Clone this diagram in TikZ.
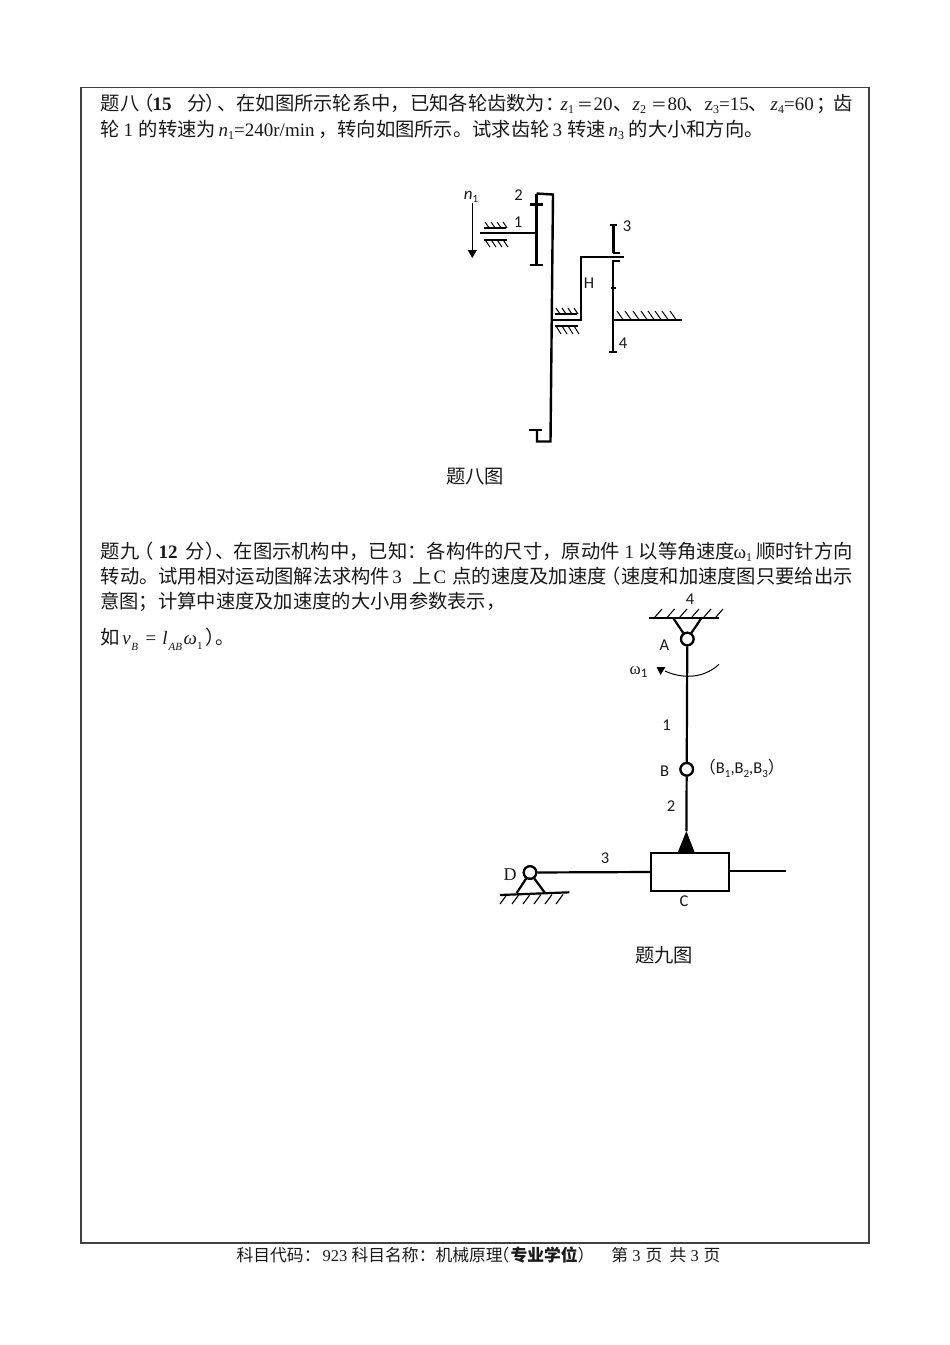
\documentclass[tikz,border=0pt]{standalone}
\usepackage{fontspec}
\usetikzlibrary{arrows.meta}
\setmainfont{Liberation Serif}
\newfontfamily\cjk[Scale=1.016]{Noto Sans CJK SC}
\newfontfamily\lbl{Carlito}
\newcommand{\lowsub}[1]{\raisebox{-0.18em}{\fontsize{12}{12}\selectfont #1}}
\newcommand{\tline}[1]{{\fontsize{19}{20}\selectfont #1}}
\newcommand{\cj}[1]{{\cjk #1}}
\newcommand{\seg}[2]{\rlap{\hspace*{#1pt}#2}}
\newcommand{\eqs}{{\fontsize{15.5}{16}\selectfont\cjk ＝}}
\definecolor{ink}{gray}{0.1}
\tikzset{
  txt/.style={anchor=base west,inner sep=0pt,text=ink},
  partlbl/.style={inner sep=0pt,font=\lbl\fontsize{16.5}{16.5}\selectfont,text=ink},
  capt/.style={inner sep=0pt,font=\cjk\fontsize{19}{20}\selectfont,text=ink},
  frame/.style={draw=black!75,line width=1.6pt},
  gear/.style={draw=black,line width=2.4pt},
  shaft/.style={draw=black,line width=1.9pt},
  hatch/.style={draw=black,line width=1pt},
  joint/.style={circle,draw=black,line width=2.2pt,fill=white,minimum size=12.5pt,inner sep=0pt},
  linkl/.style={draw=black,line width=2.2pt},
}
\begin{document}
\begin{tikzpicture}[x=1pt,y=-1pt]
\useasboundingbox[fill=white] (0,0) rectangle (950,1345);
\draw[frame] (81,87.5) rectangle (869,1243);

% text
\node[txt] (l1) at (100,110) {\tline{\seg{0}{\cj{题八}}\seg{34}{\cj{（}}\seg{52}{\textbf{15}}\seg{86.7}{\cj{分}}\seg{105}{\cj{）}}\seg{117}{\cj{、}}\seg{135.7}{\cj{在如图所示轮系中，已知各轮齿数为：}}\seg{460}{\textit{z}\lowsub{1}}\seg{476.5}{\eqs}\seg{493}{20}\seg{513}{\cj{、}}\seg{532}{\textit{z}\lowsub{2}}\seg{550.5}{\eqs}\seg{567}{80}\seg{585}{\cj{、}}\seg{604}{z\lowsub{3}=15}\seg{648}{\cj{、}}\seg{670}{\textit{z}\lowsub{4}=60}\seg{716}{\cj{；}}\seg{733}{\cj{齿}}}};
\node[txt] (l2) at (100,136) {\tline{\seg{0}{\cj{轮}}\seg{23}{1}\seg{38}{\cj{的转速为}}\seg{118}{\textit{n}\lowsub{1}=240r/min}\seg{218}{\cj{，}}\seg{236.7}{\cj{转向如图所示。试求齿轮}}\seg{452}{3}\seg{466.7}{\cj{转速}}\seg{508}{\textit{n}\lowsub{3}}\seg{528}{\cj{的大小和方向。}}}};
\node[txt] (l3) at (100,558) {\tline{\seg{0}{\cj{题九}}\seg{34}{\cj{（}}\seg{58}{\textbf{12}}\seg{85}{\cj{分}}\seg{105}{\cj{）}}\seg{115}{\cj{、}}\seg{133}{\cj{在图示机构中，已知：各构件的尺寸，原动件}}\seg{524}{1}\seg{538}{\cj{以等角速度}}\seg{633}{ω\lowsub{1}}\seg{655.5}{\cj{顺时针方向}}}};
\node[txt] (l4) at (100,583) {\tline{\seg{0}{\cj{转动。试用相对运动图解法求构件}}\seg{291.7}{3}\seg{311.7}{\cj{上}}\seg{333}{C}\seg{351.7}{\cj{点的速度及加速度}}\seg{501}{\cj{（}}\seg{520.4}{\cj{速度和加速度图只要给出示}}}};
\node[txt] (l5) at (100,608) {\tline{\cj{意图；计算中速度及加速度的大小用参数表示，}}};
\node[txt] (l6) at (100,644) {\tline{\seg{0}{\cj{如}}\seg{21.7}{\textit{v}}\seg{30.7}{\raisebox{-0.35em}{\fontsize{11}{11}\selectfont\textit{B}}}\seg{45}{=}\seg{61.7}{\textit{l}}\seg{68}{\raisebox{-0.35em}{\fontsize{11}{11}\selectfont\textit{AB}}}\seg{83}{\textit{ω}}\seg{96.5}{\raisebox{-0.3em}{\fontsize{11}{11}\selectfont 1}}\seg{105}{\cj{）}}\seg{115}{\cj{。}}}};
\node[txt] (foot) at (236,1261) {{\fontsize{16.5}{18}\selectfont\seg{0}{\cj{科目代码：}}\seg{86}{923}\seg{115}{\cj{科目名称：机械原理}}\seg{256}{\cj{（}}\seg{274}{\cj{\textbf{专业学位}}}\seg{341}{\cj{）}}\seg{374.7}{\cj{第}}\seg{395.7}{3}\seg{409}{\cj{页}}\seg{433}{\cj{共}}\seg{454}{3}\seg{467}{\cj{页}}}};
\node[capt] (cap8) at (475,477) {题八图};
\node[capt] (cap9) at (664,955) {题九图};

% ---- gear train
\draw[gear] (536.5,193.5) -- (553,194.5) -- (550.5,441.5) -- (537,441.5) -- (537,430);
\draw[gear] (529,430) -- (542,430);
\draw[gear] (536.5,193.5) -- (536.5,265);
\draw[gear] (529.5,265) -- (543,265);
\draw[gear] (529.5,204.3) -- (543,204.3);
\draw[shaft] (480,233.3) -- (536.5,233.3);
\draw[gear] (484,227.7) -- (505.7,227.7);
\draw[gear] (483.5,239.7) -- (506.7,239.7);
\foreach \x in {485,491,497,503} \draw[hatch] (\x,222) -- (\x+4,227.7);
\foreach \x in {485,491,497,503} \draw[hatch] (\x,239.7) -- (\x+5,247);
\coordinate (n1top) at (472.3,203);
\coordinate (n1end) at (472.3,258);
\draw[draw=black,line width=1pt,-{Triangle[length=8pt,width=9pt]}] (n1top) -- (n1end);
\node[inner sep=0pt,font=\lbl\fontsize{17}{17}\selectfont,text=ink] (n1) at (471,197) {\textit{n}\raisebox{-0.2em}{\fontsize{11}{11}\selectfont 1}};
\node[partlbl] (g2) at (518.5,195) {2};
\node[partlbl] (g1) at (518,222.5) {1};
\node[partlbl] (g3) at (627,226.5) {3};
\node[partlbl] (gH) at (589,283.5) {H};
\node[partlbl] (g4) at (623,343) {4};
% carrier
\draw[shaft] (552.5,320) -- (581,320) -- (581,257.3) -- (624,257.3);
\draw[gear] (555,314) -- (576.7,314);
\draw[gear] (555,326) -- (578,326);
\foreach \x in {556,562,568,574} \draw[hatch] (\x,308) -- (\x+4,314);
\foreach \x in {556,562,568,574} \draw[hatch] (\x,326) -- (\x+5,334);
% gears 3, 4
\draw[gear] (613.3,225) -- (613.3,252.7);
\draw[gear] (610,225) -- (616.7,225);
\draw[gear] (612.7,252.7) -- (620,252.7);
\draw[gear] (613,260.7) -- (613,351.7);
\draw[gear] (612,260.7) -- (620,260.7);
\draw[gear] (609.3,351.7) -- (616.7,351.7);
\draw[gear] (610.5,288) -- (615.7,288);
\draw[shaft] (613.3,320) -- (682.3,320);
\foreach \x in {617,625,633,641,648,655,662,670} \draw[hatch] (\x,311) -- (\x+6,319.5);

% ---- linkage
\draw[linkl] (649.3,617.7) -- (719.3,617.7);
\foreach \x in {655,667.5,680,692,704,716} \draw[hatch,line width=1.1pt] (\x,617) -- (\x+7,609);
\node[joint] (A) at (687.3,639) {};
\node[joint] (B) at (686.7,769.3) {};
\node[joint] (D) at (530,872.5) {};
\coordinate (apex) at (686.4,831);
\node[draw=black,line width=2.2pt,minimum width=78.3pt,minimum height=37.4pt,inner sep=0pt,fill=white] (slider) at (690.2,872) {};
\draw[linkl] (673,617.7) -- (A);
\draw[linkl] (701.7,617.7) -- (A);
\draw[linkl] (A) -- (B);
\draw[linkl] (B) -- (apex);
\fill[black] (apex) -- (695,853.3) -- (677.3,853.3) -- cycle;
\coordinate (Dbase1) at (516.7,893);
\coordinate (Dbase2) at (545,893);
\coordinate (rightend) at (786,871);
\draw[linkl] (D) -- (slider.west);
\draw[linkl] (slider.east |- rightend) -- (rightend);
\draw[linkl] (D) -- (Dbase1);
\draw[linkl] (D) -- (Dbase2);
\node[joint] (A2) at (A) {};
\node[joint] (B2) at (B) {};
\node[joint] (D2) at (D) {};
\draw[linkl] (500,895) -- (569.3,892.3);
\foreach \x in {507,519,530,541,552,563} \draw[hatch,line width=1.1pt] (\x,894.5) -- (\x-7,904);
% omega arrow
\coordinate (w1) at (719,664.3);
\coordinate (w2) at (665,671);
\draw[draw=black,line width=1pt] (w1) .. controls (702,680) and (680,678) .. (w2);
\fill[black] (656.5,667) -- (665.5,667) -- (660.5,675) -- cycle;
\node[inner sep=0pt,font=\fontsize{17}{17}\selectfont,text=ink] (om) at (638.5,672) {ω\raisebox{-0.2em}{\lbl\fontsize{13}{13}\selectfont 1}};
\node[partlbl] (m4) at (690,599) {4};
\node[partlbl] (mA) at (664.5,645) {A};
\node[partlbl] (m1) at (666.5,725.5) {1};
\node[partlbl] (mB) at (664.5,771.5) {B};
\node[partlbl,anchor=west] (mB3) at (699,768.5) {\cj{（}B\raisebox{-0.2em}{\fontsize{11}{11}\selectfont 1},B\raisebox{-0.2em}{\fontsize{11}{11}\selectfont 2},B\raisebox{-0.2em}{\fontsize{11}{11}\selectfont 3}\cj{）}};
\node[partlbl] (m2) at (671,806) {2};
\node[partlbl] (m3) at (605,858) {3};
\node[partlbl] (mC) at (684,901.5) {C};
\node[inner sep=0pt,font=\fontsize{18}{18}\selectfont,text=ink] (mD) at (510,875) {D};
\end{tikzpicture}
\end{document}
